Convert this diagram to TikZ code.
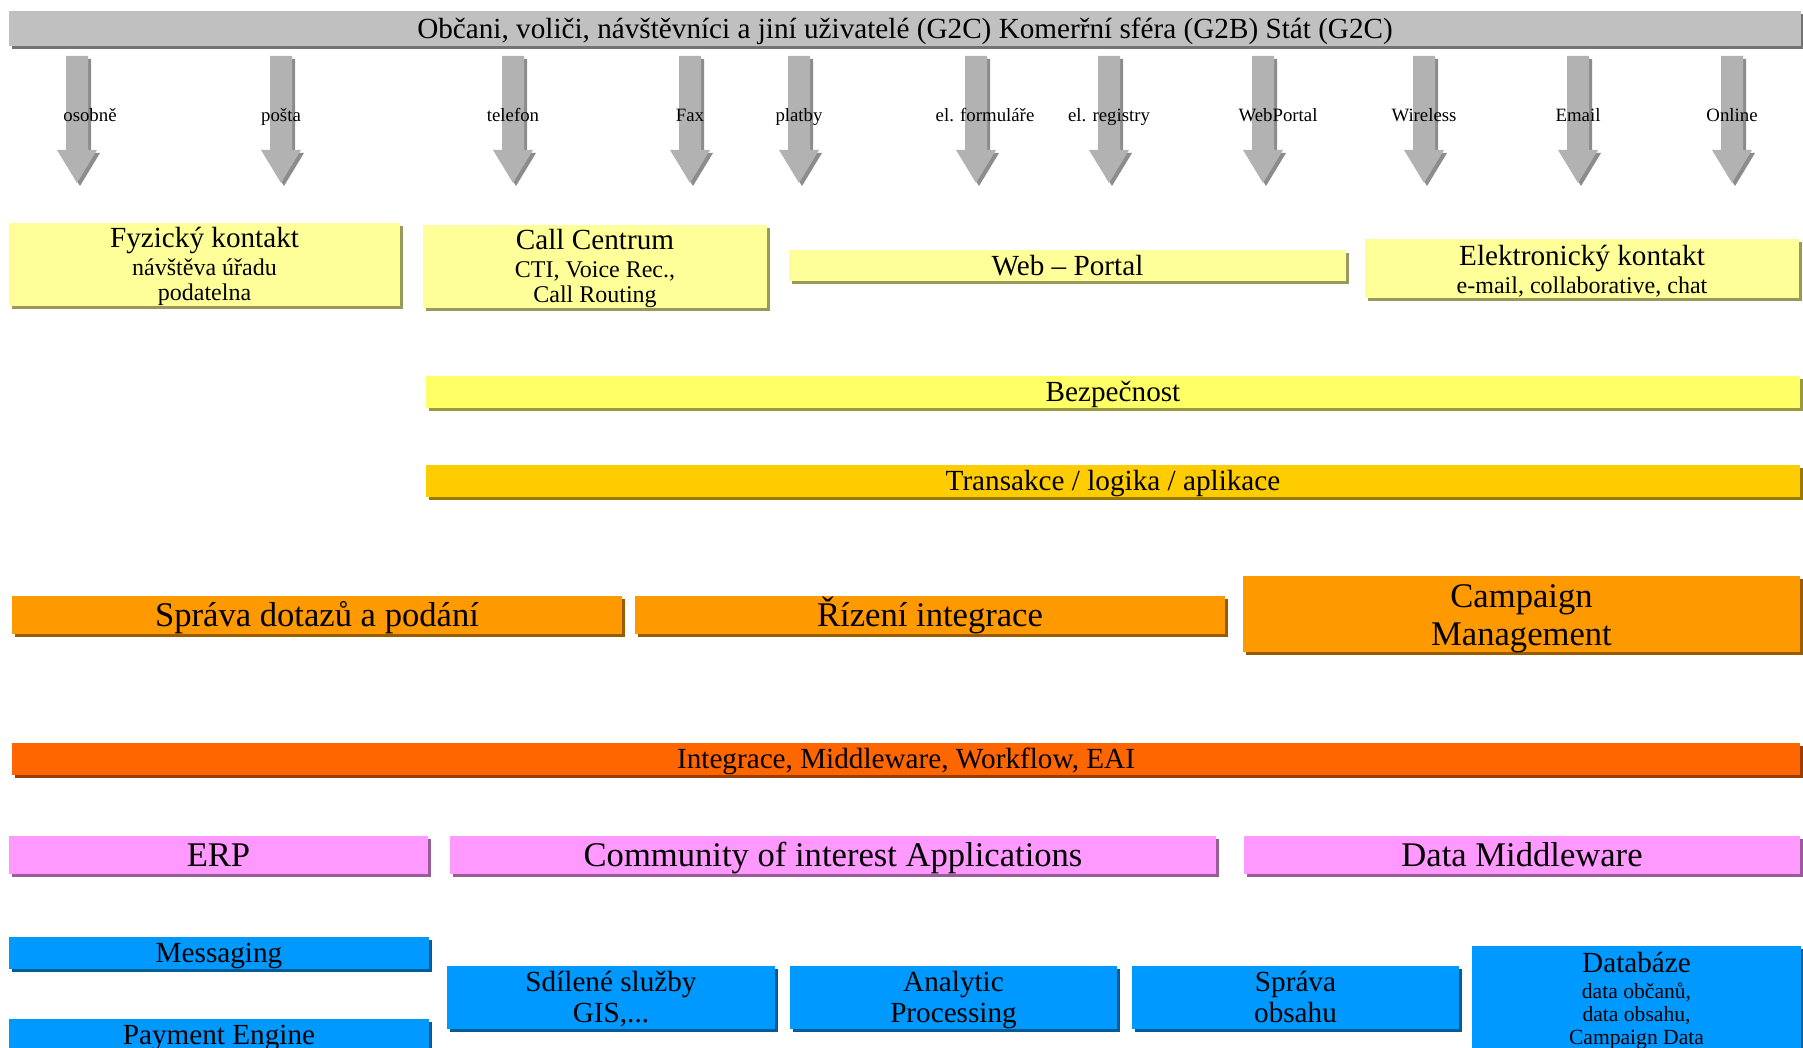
\documentclass[tikz,border=0pt]{standalone}
\usepackage{fontspec}
\setmainfont{Liberation Serif}
\usetikzlibrary{shadows}

\definecolor{topgray}{HTML}{C0C0C0}
\definecolor{lightyel}{HTML}{FFFF99}
\definecolor{yel}{HTML}{FFFF66}
\definecolor{gold}{HTML}{FFCC00}
\definecolor{orng}{HTML}{FF9900}
\definecolor{redorng}{HTML}{FF6600}
\definecolor{pinkish}{HTML}{FF99FF}
\definecolor{skyblue}{HTML}{0099FF}

\newcommand\subtxt{\fontsize{12}{12.5}\selectfont}
\newcommand\dbtxt{\fontsize{10.8}{11.5}\selectfont}
\setlength\lineskiplimit{-100pt}

\begin{document}
\begin{tikzpicture}[x=0.5pt, y=-0.5pt,
    panel/.style={rectangle, inner sep=0pt, fill=#1,
      general shadow={fill=#1!60!black, shadow xshift=1.5pt, shadow yshift=-1.5pt}},
    chan/.style={fill=black!30,
      general shadow={fill=black!45, shadow xshift=1.5pt, shadow yshift=-1.5pt}},
    size/.style 2 args={minimum width=#1pt, minimum height=#2pt},
    big/.style={font=\fontsize{17.3}{19}\selectfont, align=center,
      text height=11.5pt, text depth=0pt},
    head/.style={font=\fontsize{14.6}{15.5}\selectfont, align=center,
      text height=9.7pt, text depth=0pt},
    small/.style={font=\fontsize{9.4}{10}\selectfont, text height=6.2pt, text depth=0pt}]
  \useasboundingbox (0,0) rectangle (1803,1048);
  \clip (0,0) rectangle (1803,1048);

  % users
  \node[panel=topgray, size={896}{17.5}, head] (users) at (905,28.5)
    {Občani, voliči, návštěvníci a jiní uživatelé (G2C) Komerřní sféra (G2B) Stát (G2C)};

  % channels
  \foreach \ax/\lx/\lab [count=\i] in {77/90/osobně, 281/281/pošta, 513/513/telefon,
      690/690/Fax, 799/799/platby, 976/985/el. formuláře, 1109/1109/el. registry,
      1263/1278/WebPortal, 1424/1424/Wireless, 1578/1578/Email, 1732/1732/Online} {
    \fill[chan] (\ax-11,56) -- (\ax+11,56) -- (\ax+11,150) -- (\ax+20,150)
      -- (\ax,183) -- (\ax-20,150) -- (\ax-11,150) -- cycle;
    \node[small] (ch\i) at (\lx,115) {\lab};
  }

  % contact points
  \node[panel=lightyel, size={195.5}{41.5}, head, text height=36.15pt] (fyz) at (204.5,264.5)
    {Fyzický kontakt\\[-1.7pt]\subtxt návštěva úřadu\\[-2.85pt]\subtxt podatelna};
  \node[panel=lightyel, size={172}{41.5}, head, text height=36.15pt] (call) at (595,266.5)
    {Call Centrum\\[-1.7pt]\subtxt CTI, Voice Rec.,\\[-2.85pt]\subtxt Call Routing};
  \node[panel=lightyel, size={278.5}{15.5}, head] (web) at (1067.5,265.5) {Web – Portal};
  \node[panel=lightyel, size={217}{29.5}, head, text height=24.6pt] (elkont) at (1582,268.5)
    {Elektronický kontakt\\[-1.7pt]\subtxt e-mail, collaborative, chat};

  \node[panel=yel, size={687}{16}, head] (bezp) at (1113,392) {Bezpečnost};
  \node[panel=gold, size={687}{16}, head] (trans) at (1113,481) {Transakce / logika / aplikace};

  % processes
  \node[panel=orng, size={305}{19}, big] (dotazy) at (317,615) {Správa dotazů a podání};
  \node[panel=orng, size={295}{19}, big] (rizeni) at (930,615) {Řízení integrace};
  \node[panel=orng, size={278.5}{38}, big, text height=31.15pt] (campaign) at (1521.5,614)
    {Campaign\\Management};

  \node[panel=redorng, size={894}{16}, head] (integ) at (906,759)
    {Integrace, Middleware, Workflow, EAI};

  % applications
  \node[panel=pinkish, size={209.5}{19}, big] (erp) at (218.5,855) {ERP};
  \node[panel=pinkish, size={383}{19}, big] (coi) at (833,855) {Community of interest Applications};
  \node[panel=pinkish, size={278}{19}, big] (datamw) at (1522,855) {Data Middleware};

  % services and data
  \node[panel=skyblue, size={210}{16}, head] (msg) at (219,953) {Messaging};
  \node[panel=skyblue, size={210}{16}, head] (payment) at (219,1035) {Payment Engine};
  \node[panel=skyblue, size={164}{31.5}, head, text height=25.2pt] (sdilene) at (611,997.5)
    {Sdílené služby\\GIS,...};
  \node[panel=skyblue, size={163.5}{31.5}, head, text height=25.2pt] (analytic) at (953.5,997.5)
    {Analytic\\Processing};
  \node[panel=skyblue, size={163.5}{31.5}, head, text height=25.2pt] (obsah) at (1295.5,997.5)
    {Správa\\obsahu};
  \node[panel=skyblue, size={164.5}{53}, head, text height=45.15pt] (db) at (1636.5,999)
    {Databáze\\[-2.85pt]\dbtxt data občanů,\\[-4pt]\dbtxt data obsahu,\\[-4pt]\dbtxt Campaign Data};
\end{tikzpicture}
\end{document}
